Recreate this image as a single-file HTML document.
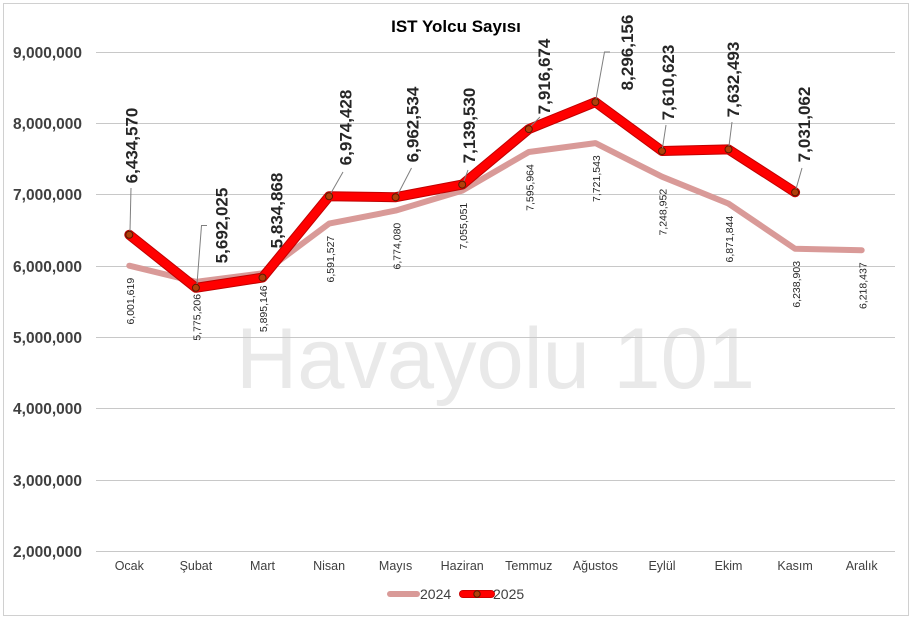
<!DOCTYPE html>
<html>
<head>
<meta charset="utf-8">
<style>
html,body{margin:0;padding:0;background:#fff;}
svg{display:block;}
text{font-family:"Liberation Sans",Arial,sans-serif;}
</style>
</head>
<body>
<svg width="913" height="620" viewBox="0 0 913 620" xmlns="http://www.w3.org/2000/svg">
<rect x="0" y="0" width="913" height="620" fill="#fff"/>
<rect x="3.5" y="3.5" width="905" height="612" fill="#fff" stroke="#d0d0d0" stroke-width="1"/>

<!-- watermark -->
<text x="236" y="388" font-size="86" fill="#e9e9e9" textLength="519" lengthAdjust="spacingAndGlyphs">Havayolu 101</text>

<!-- gridlines -->
<g stroke="#c8c8c8" stroke-width="1">
<line x1="96" y1="52.5" x2="895" y2="52.5"/>
<line x1="96" y1="123.5" x2="895" y2="123.5"/>
<line x1="96" y1="194.5" x2="895" y2="194.5"/>
<line x1="96" y1="266.5" x2="895" y2="266.5"/>
<line x1="96" y1="337.5" x2="895" y2="337.5"/>
<line x1="96" y1="408.5" x2="895" y2="408.5"/>
<line x1="96" y1="480.5" x2="895" y2="480.5"/>
<line x1="96" y1="551.5" x2="895" y2="551.5"/>
</g>

<!-- y labels -->
<g font-size="15.5" font-weight="bold" fill="#404040" text-anchor="end">
<text x="82" y="58">9,000,000</text>
<text x="82" y="129">8,000,000</text>
<text x="82" y="200">7,000,000</text>
<text x="82" y="272">6,000,000</text>
<text x="82" y="343">5,000,000</text>
<text x="82" y="414">4,000,000</text>
<text x="82" y="486">3,000,000</text>
<text x="82" y="557">2,000,000</text>
</g>

<!-- x labels -->
<g font-size="12.5" fill="#404040" text-anchor="middle">
<text x="129.3" y="570">Ocak</text>
<text x="195.9" y="570">Şubat</text>
<text x="262.5" y="570">Mart</text>
<text x="329.1" y="570">Nisan</text>
<text x="395.6" y="570">Mayıs</text>
<text x="462.2" y="570">Haziran</text>
<text x="528.8" y="570">Temmuz</text>
<text x="595.4" y="570">Ağustos</text>
<text x="662" y="570">Eylül</text>
<text x="728.5" y="570">Ekim</text>
<text x="795.1" y="570">Kasım</text>
<text x="861.7" y="570">Aralık</text>
</g>

<!-- title -->
<text x="456" y="32" font-size="17" font-weight="bold" fill="#000" text-anchor="middle">IST Yolcu Sayısı</text>

<!-- 2024 series -->
<polyline fill="none" stroke="#d99a98" stroke-width="6" stroke-linejoin="round" stroke-linecap="round"
points="129.3,265.7 195.9,281.8 262.5,273.3 329.1,223.6 395.6,210.6 462.2,190.6 528.8,152.0 595.4,143.1 662,176.7 728.5,203.6 795.1,248.8 861.7,250.2"/>

<!-- 2025 series -->
<polyline fill="none" stroke="#c00000" stroke-width="10" stroke-linejoin="round" stroke-linecap="round"
points="129.3,234.8 195.9,287.8 262.5,277.6 329.1,196.3 395.6,197.2 462.2,184.6 528.8,129.1 595.4,102.1 662,151.0 728.5,149.4 795.1,192.3"/>
<polyline fill="none" stroke="#ff0000" stroke-width="8" stroke-linejoin="round" stroke-linecap="round"
points="129.3,234.8 195.9,287.8 262.5,277.6 329.1,196.3 395.6,197.2 462.2,184.6 528.8,129.1 595.4,102.1 662,151.0 728.5,149.4 795.1,192.3"/>

<!-- markers -->
<g fill="#b0400a" stroke="#5a1a00" stroke-width="1">
<circle cx="129.3" cy="234.8" r="3.5"/>
<circle cx="195.9" cy="287.8" r="3.5"/>
<circle cx="262.5" cy="277.6" r="3.5"/>
<circle cx="329.1" cy="196.3" r="3.5"/>
<circle cx="395.6" cy="197.2" r="3.5"/>
<circle cx="462.2" cy="184.6" r="3.5"/>
<circle cx="528.8" cy="129.1" r="3.5"/>
<circle cx="595.4" cy="102.1" r="3.5"/>
<circle cx="662" cy="151.0" r="3.5"/>
<circle cx="728.5" cy="149.4" r="3.5"/>
<circle cx="795.1" cy="192.3" r="3.5"/>
</g>

<!-- leader lines -->
<g fill="none" stroke="#7f7f7f" stroke-width="1">
<polyline points="130,231 131,188"/>
<polyline points="197,284 201.5,225.5 207,225.5"/>
<polyline points="331,193 343,172"/>
<polyline points="398,194 411.5,168"/>
<polyline points="464,181 468,170"/>
<polyline points="531,126 540,117"/>
<polyline points="596,99 604.5,52 610,52"/>
<polyline points="662.5,148 666,125"/>
<polyline points="729,146 732,122"/>
<polyline points="796,189 802,168"/>
</g>

<!-- 2024 labels -->
<g font-size="10.5" fill="#262626" text-anchor="middle">
<text transform="translate(130.3,301.2) rotate(-90)" dy="0.35em">6,001,619</text>
<text transform="translate(196.9,317.3) rotate(-90)" dy="0.35em">5,775,206</text>
<text transform="translate(263.5,308.8) rotate(-90)" dy="0.35em">5,895,146</text>
<text transform="translate(330.1,259.1) rotate(-90)" dy="0.35em">6,591,527</text>
<text transform="translate(396.6,246.1) rotate(-90)" dy="0.35em">6,774,080</text>
<text transform="translate(463.2,226.1) rotate(-90)" dy="0.35em">7,055,051</text>
<text transform="translate(529.8,187.5) rotate(-90)" dy="0.35em">7,595,964</text>
<text transform="translate(596.4,178.6) rotate(-90)" dy="0.35em">7,721,543</text>
<text transform="translate(663,212.2) rotate(-90)" dy="0.35em">7,248,952</text>
<text transform="translate(729.5,239.1) rotate(-90)" dy="0.35em">6,871,844</text>
<text transform="translate(796.1,284.3) rotate(-90)" dy="0.35em">6,238,903</text>
<text transform="translate(862.7,285.7) rotate(-90)" dy="0.35em">6,218,437</text>
</g>

<!-- 2025 labels -->
<g font-size="17" font-weight="bold" fill="#262626" text-anchor="middle">
<text transform="translate(131.5,145.5) rotate(-90)" dy="0.35em">6,434,570</text>
<text transform="translate(221.5,225.5) rotate(-90)" dy="0.35em">5,692,025</text>
<text transform="translate(276.5,210.5) rotate(-90)" dy="0.35em">5,834,868</text>
<text transform="translate(345.5,127.5) rotate(-90)" dy="0.35em">6,974,428</text>
<text transform="translate(412.5,124.5) rotate(-90)" dy="0.35em">6,962,534</text>
<text transform="translate(469,125.5) rotate(-90)" dy="0.35em">7,139,530</text>
<text transform="translate(544,76.5) rotate(-90)" dy="0.35em">7,916,674</text>
<text transform="translate(627,52.5) rotate(-90)" dy="0.35em">8,296,156</text>
<text transform="translate(668,82.5) rotate(-90)" dy="0.35em">7,610,623</text>
<text transform="translate(733,79.5) rotate(-90)" dy="0.35em">7,632,493</text>
<text transform="translate(804,124.5) rotate(-90)" dy="0.35em">7,031,062</text>
</g>

<!-- legend -->
<line x1="390" y1="594" x2="417" y2="594" stroke="#d99a98" stroke-width="6" stroke-linecap="round"/>
<text x="420" y="599" font-size="14" fill="#404040">2024</text>
<line x1="463" y1="594" x2="491" y2="594" stroke="#c00000" stroke-width="8" stroke-linecap="round"/>
<line x1="463" y1="594" x2="491" y2="594" stroke="#ff0000" stroke-width="6.5" stroke-linecap="round"/>
<circle cx="477" cy="594" r="3.2" fill="#b0400a" stroke="#5a1a00" stroke-width="1"/>
<text x="493" y="599" font-size="14" fill="#404040">2025</text>
</svg>
</body>
</html>
